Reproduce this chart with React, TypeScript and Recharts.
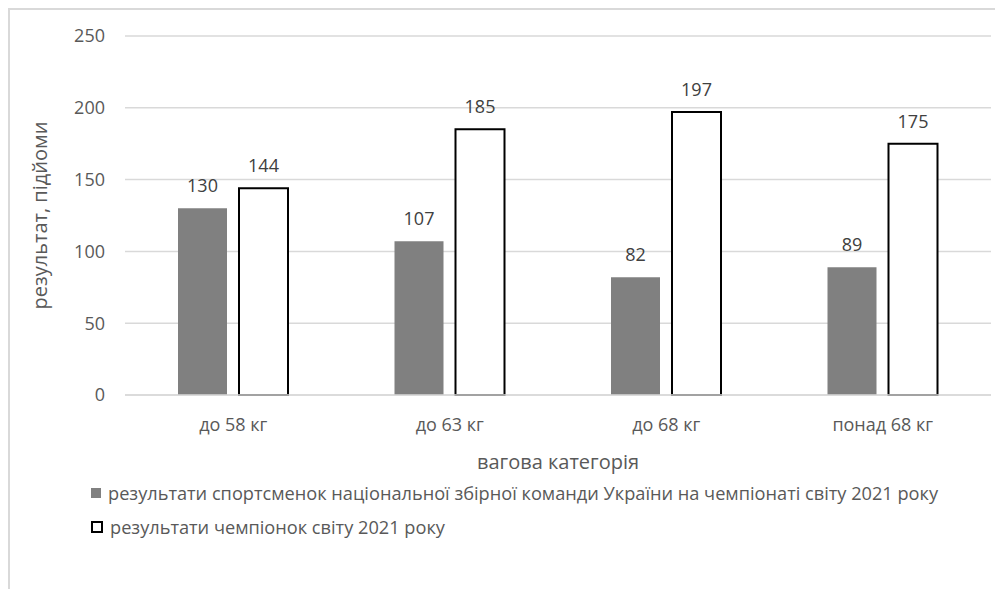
import React from 'react';
import { BarChart, Bar, XAxis, YAxis, CartesianGrid, Legend, LabelList } from 'recharts';

const categories = ['до 58 кг', 'до 63 кг', 'до 68 кг', 'понад 68 кг'];
const ukraineResults = [130, 107, 82, 89];
const championResults = [144, 185, 197, 175];
const yTicks = [0, 50, 100, 150, 200, 250];

const seriesNames = {
    ukraine: 'результати спортсменок національної збірної команди України на чемпіонаті світу 2021 року',
    champion: 'результати чемпіонок світу 2021 року',
};

const data = categories.map((name, i) => ({
    name,
    ukraine: ukraineResults[i],
    champion: championResults[i],
}));

const FONT = '"Open Sans", sans-serif';
const TEXT = '#595959';

const LegendBox = () => (
    <div style={{ fontFamily: FONT, fontSize: 18.2, color: TEXT }}>
        <div style={{ display: 'flex', alignItems: 'center', height: 34 }}>
            <span style={{ width: 10, height: 10, background: '#808080', marginRight: 7 }} />
            <span>{seriesNames.ukraine}</span>
        </div>
        <div style={{ display: 'flex', alignItems: 'center', height: 34 }}>
            <span style={{ width: 8, height: 8, border: '2px solid #000', background: '#fff', marginRight: 7 }} />
            <span>{seriesNames.champion}</span>
        </div>
    </div>
);

const App: React.FC = () => {
    return (
        <div
            style={{
                width: 995,
                height: 581,
                boxSizing: 'border-box',
                borderTop: '2px solid #d9d9d9',
                borderLeft: '2px solid #d9d9d9',
                background: '#fff',
            }}
        >
            <BarChart
                width={993}
                height={579}
                data={data}
                margin={{ top: 26, right: 12, left: 0, bottom: 114 }}
                barCategoryGap={53}
                barGap={12}
            >
                <CartesianGrid vertical={false} stroke="#d9d9d9" strokeWidth={1.5} />
                <XAxis
                    dataKey="name"
                    height={80}
                    tickLine={false}
                    axisLine={{ stroke: '#d9d9d9', strokeWidth: 1.5 }}
                    tickMargin={17}
                    tick={{ fill: TEXT, fontSize: 18, fontFamily: FONT }}
                    label={{
                        value: 'вагова категорія',
                        position: 'insideBottom',
                        offset: 6,
                        fill: TEXT,
                        fontSize: 20,
                        fontFamily: FONT,
                    }}
                />
                <YAxis
                    width={115}
                    domain={[0, 250]}
                    ticks={yTicks}
                    tickLine={false}
                    axisLine={false}
                    tickMargin={14}
                    tick={{ fill: TEXT, fontSize: 18, fontFamily: FONT }}
                    label={{
                        value: 'результат, підйоми',
                        angle: -90,
                        position: 'insideLeft',
                        offset: 30,
                        fill: TEXT,
                        fontSize: 20,
                        fontFamily: FONT,
                        style: { textAnchor: 'middle' },
                    }}
                />
                <Legend
                    layout="horizontal"
                    verticalAlign="middle"
                    align="center"
                    wrapperStyle={{ top: 466, left: 81, width: 900 }}
                    content={<LegendBox />}
                />
                <Bar dataKey="ukraine" name={seriesNames.ukraine} fill="#808080" isAnimationActive={false}>
                    <LabelList dataKey="ukraine" position="top" offset={16} fill="#404040" fontSize={18} fontFamily={FONT} />
                </Bar>
                <Bar dataKey="champion" name={seriesNames.champion} fill="#ffffff" stroke="#000000" strokeWidth={2} isAnimationActive={false}>
                    <LabelList dataKey="champion" position="top" offset={16} fill="#404040" fontSize={18} fontFamily={FONT} />
                </Bar>
            </BarChart>
        </div>
    );
};

export default App;
